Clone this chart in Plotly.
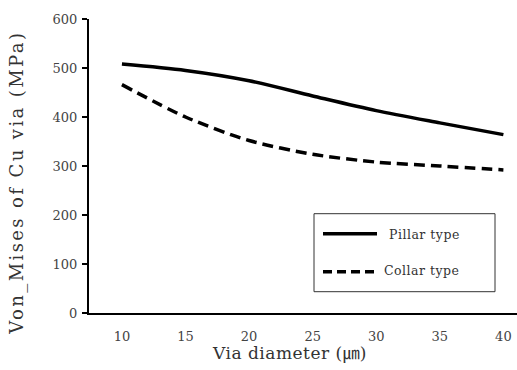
import plotly.graph_objects as go

via_diameter = [10, 15, 20, 25, 30, 35, 40]
pillar_type = [508, 495, 474, 443, 413, 388, 364]
collar_type = [466, 400, 352, 324, 308, 300, 292]
x_ticks = [10, 15, 20, 25, 30, 35, 40]
y_ticks = [0, 100, 200, 300, 400, 500, 600]

FONT = "DejaVu Serif"

fig = go.Figure()
fig.add_trace(go.Scatter(x=via_diameter, y=pillar_type, mode="lines", name="Pillar type",
                         line=dict(color="black", width=3.5, shape="spline", smoothing=0.8)))
fig.add_trace(go.Scatter(x=via_diameter, y=collar_type, mode="lines", name="Collar type",
                         line=dict(color="black", width=3.5, dash="11px,6px", shape="spline", smoothing=0.8)))

L, T, W, H = 89, 19.3, 428, 294.0


def px(x):
    return (x - L) / W


def py(y):
    return (T + H - y) / H


# custom legend
fig.add_shape(type="rect", xref="paper", yref="paper", x0=px(314), x1=px(495), y0=py(292), y1=py(214),
              line=dict(color="#333", width=1), fillcolor="white", layer="above")
fig.add_shape(type="line", xref="paper", yref="paper", x0=px(323), x1=px(377), y0=py(234), y1=py(234),
              line=dict(color="black", width=3.5))
fig.add_shape(type="line", xref="paper", yref="paper", x0=px(323), x1=px(377), y0=py(272), y1=py(272),
              line=dict(color="black", width=3.5, dash="9px,5px"))
fig.add_annotation(xref="paper", yref="paper", x=px(387), y=py(235),
                   text="<span style='letter-spacing:0.5px'>Pillar type</span>", showarrow=False,
                   xanchor="left", yanchor="middle", font=dict(family=FONT, size=12.5, color="#333"))
fig.add_annotation(xref="paper", yref="paper", x=px(382), y=py(271),
                   text="<span style='letter-spacing:0.5px'>Collar type</span>", showarrow=False,
                   xanchor="left", yanchor="middle", font=dict(family=FONT, size=12.5, color="#333"))

# axis titles
fig.add_annotation(xref="paper", yref="paper", x=px(17), y=py(183),
                   text="<span style='letter-spacing:2.4px'>Von_Mises of Cu via (MPa)</span>",
                   showarrow=False, textangle=-90, xanchor="center", yanchor="middle",
                   font=dict(family=FONT, size=18, color="#333"))
fig.add_annotation(xref="paper", yref="paper", x=px(289), y=py(352),
                   text="<span style='letter-spacing:0.5px'>Via diameter (</span>"
                        "<span style='font-family:Noto Sans CJK JP'>\u339b</span>)",
                   showarrow=False, xanchor="center", yanchor="middle",
                   font=dict(family=FONT, size=17, color="#333"))

fig.update_layout(
    width=517, height=370,
    margin=dict(l=L, r=0, t=T, b=370 - T - H),
    paper_bgcolor="white", plot_bgcolor="white",
    showlegend=False,
    font=dict(family=FONT, color="#444"),
    xaxis=dict(range=[7.41, 41.07], tickvals=x_ticks, ticks="", showgrid=False, zeroline=False,
               showline=True, linecolor="black", linewidth=2, ticklabelstandoff=10, automargin=False,
               tickfont=dict(family=FONT, size=13, color="#444")),
    yaxis=dict(range=[0, 600], tickvals=y_ticks, ticks="outside", ticklen=5, tickwidth=1.5,
               tickcolor="black", showgrid=False, zeroline=False, showline=True, linecolor="black",
               linewidth=2, ticklabelstandoff=2, automargin=False,
               tickfont=dict(family=FONT, size=13, color="#444")),
)

fig.write_html("out.html", config={"displayModeBar": False},
               post_script="document.body.style.margin='0px';document.body.style.overflow='hidden';")
